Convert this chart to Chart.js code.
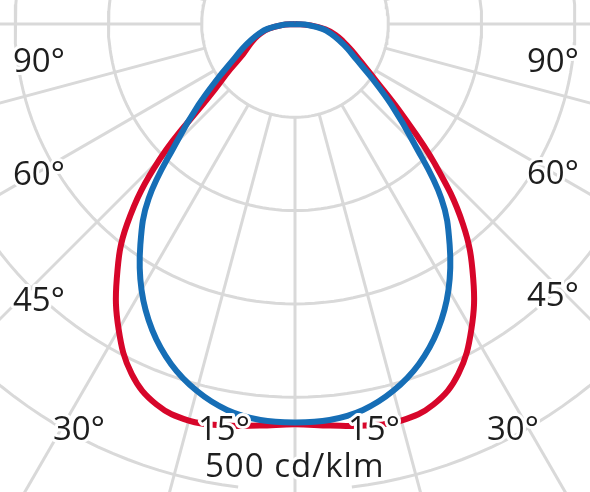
<!DOCTYPE html>
<html>
<head>
<meta charset="utf-8">
<script src="https://cdn.jsdelivr.net/npm/chart.js@4.4.1/dist/chart.umd.min.js"></script>
<style>
  html, body { margin:0; padding:0; background:#fff; overflow:hidden; }
  #wrap { width:590px; height:492px; }
</style>
</head>
<body>
<div id="wrap"><canvas id="polar" width="590" height="492"></canvas></div>
<script>
// ─── DATA (cd/klm, angle from nadir) ──────────────────────────────────────────
const ANGLES      = [0, 5, 10, 15, 20, 25, 30, 35, 40, 45, 50, 55, 60, 65, 70, 75, 80, 85, 90];
// red plane: right half / left half
const RED_RIGHT   = [429, 432, 437, 440, 434, 414, 378, 333, 280, 212, 148, 106, 82, 67, 55, 45, 33, 17, 0];
const RED_LEFT    = [429, 432, 437, 440, 434, 414, 378, 333, 280, 205, 118, 85, 64, 54, 46, 38, 28, 14, 0];
// blue plane (symmetric)
const BLUE_VALUES = [427, 426, 420, 407, 388, 362, 329, 289, 244, 180, 135, 100, 76, 62, 50, 40, 30, 15, 0];
const RINGS       = [100, 200, 300, 400, 500];
const SPOKE_ANGLES = [0, 15, 30, 45, 60, 75, 90, 105, 120, 135, 150, 165, 180, 195, 210, 225, 240, 255, 270, 285, 300, 315, 330, 345];
const ANGLE_LABELS = ['90°', '60°', '45°', '30°', '15°'];
const UNIT_LABEL   = '500 cd/klm';

// ─── GEOMETRY ────────────────────────────────────────────────────────────────
const W = 590, H = 492;
const CX = 295, CY = 24;        // pole position in px
const PX_PER_CD = 0.933;

function polar(deg, v) {
  const a = deg * Math.PI / 180;
  return { x: v * Math.sin(a), y: -v * Math.cos(a) };
}

// left half from 90° down to nadir, then right half back up to 90°
function curvePoints(left, right) {
  const pts = [];
  for (let i = ANGLES.length - 1; i > 0; i--) pts.push(polar(-ANGLES[i], left[i]));
  for (let i = 0; i < ANGLES.length; i++) pts.push(polar(ANGLES[i], right[i]));
  return pts;
}

const GRID = '#d9d9d9';
const datasets = [
  { label:'blue', data: curvePoints(BLUE_VALUES, BLUE_VALUES), borderColor:'#166eb6', borderWidth:6, tension:0.4, order:0 },
  { label:'red',  data: curvePoints(RED_LEFT, RED_RIGHT),      borderColor:'#d7062a', borderWidth:6, tension:0.4, order:1 },
];

RINGS.forEach(r => {
  const pts = [];
  // outer ring has a gap under the unit label
  const gap = r === 500 ? 7 : 0;
  for (let a = gap; a <= 360 - gap; a += 2) pts.push(polar(a, r));
  datasets.push({ data: pts, borderColor: GRID, borderWidth: 3, tension: 0, order: 5 });
});

SPOKE_ANGLES.forEach(a => {
  datasets.push({ data: [polar(a, 100), polar(a, 700)], borderColor: GRID, borderWidth: 3, tension: 0, order: 5 });
});

datasets.forEach(d => { d.showLine = true; d.pointRadius = 0; d.fill = false; d.borderCapStyle = 'butt'; });

// ─── LABELS ──────────────────────────────────────────────────────────────────
const labelPlugin = {
  id: 'polarLabels',
  afterDatasetsDraw(chart) {
    const ctx = chart.ctx;
    const leftPos  = [[13, 72], [13, 185], [13, 311], [53, 440], [198, 440]];
    const rightPos = [[527, 72], [527, 184], [527, 306], [487, 440], [348, 440]];
    ctx.save();
    ctx.font = '33px "Open Sans"';
    ctx.textAlign = 'left';
    ctx.textBaseline = 'alphabetic';
    ctx.lineJoin = 'round';
    const put = (txt, x, y) => {
      ctx.strokeStyle = '#fff'; ctx.lineWidth = 6; ctx.strokeText(txt, x, y);
      ctx.fillStyle = '#1e1e1e'; ctx.fillText(txt, x, y);
    };
    ANGLE_LABELS.forEach((t, i) => {
      put(t, leftPos[i][0], leftPos[i][1]);
      put(t, rightPos[i][0], rightPos[i][1]);
    });
    if ('letterSpacing' in ctx) ctx.letterSpacing = '1px';
    put(UNIT_LABEL, 205, 477);
    ctx.restore();
  }
};

function draw() {
  new Chart(document.getElementById('polar'), {
    type: 'scatter',
    data: { datasets },
    options: {
      responsive: false, animation: false,
      layout: { padding: 0 },
      plugins: { legend:{display:false}, tooltip:{enabled:false} },
      scales: {
        x: { display:false, min: -CX / PX_PER_CD, max: (W - CX) / PX_PER_CD },
        y: { display:false, min: -(H - CY) / PX_PER_CD, max: CY / PX_PER_CD }
      }
    },
    plugins: [labelPlugin]
  });
}

if (document.fonts && document.fonts.load) {
  document.fonts.load('33px "Open Sans"').then(draw, draw);
} else {
  draw();
}
</script>
</body>
</html>
